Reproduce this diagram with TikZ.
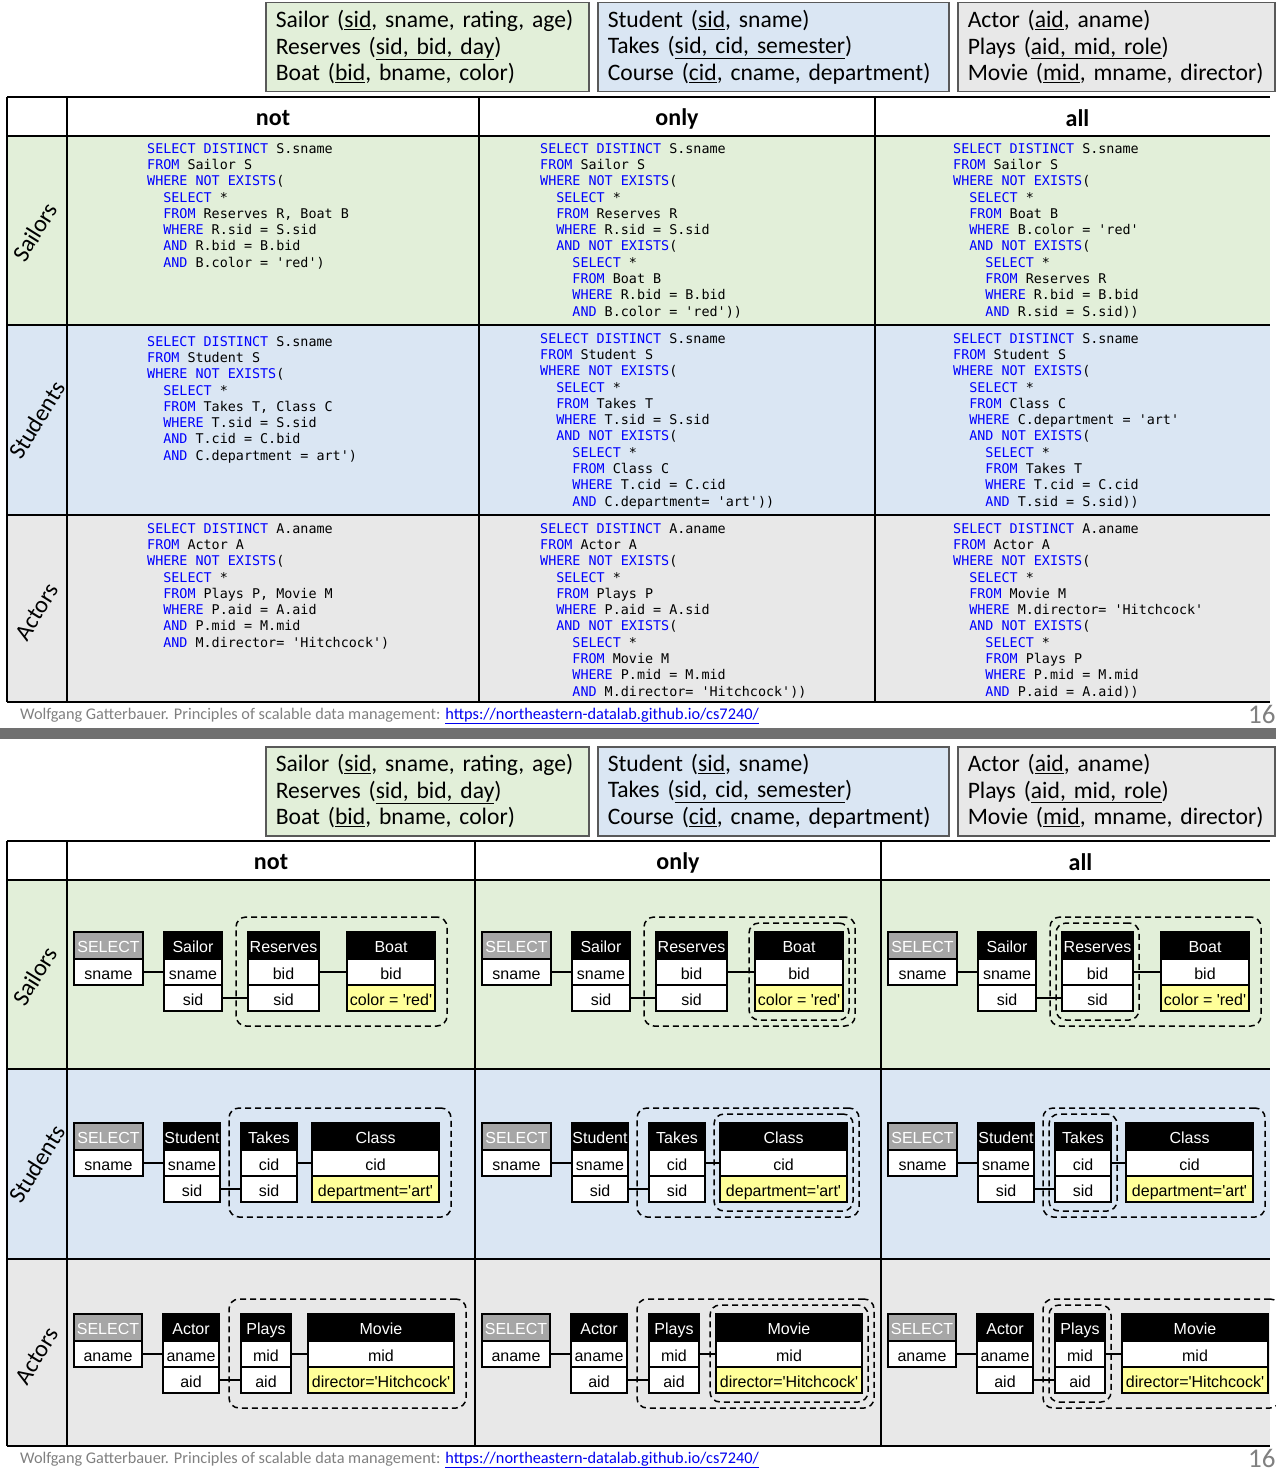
\documentclass[tikz,border=0pt]{standalone}
\usepackage{fontspec}
\setmainfont{Carlito}
\setsansfont{Liberation Sans}
\setmonofont{DejaVu Sans Mono}
\usetikzlibrary{positioning, fit}

\definecolor{sailgreen}{HTML}{E2EFD9}
\definecolor{studblue}{HTML}{DAE6F3}
\definecolor{actgray}{HTML}{E8E8E8}
\definecolor{kwblue}{HTML}{0000FF}
\definecolor{selgray}{HTML}{A6A6A6}
\definecolor{predyellow}{HTML}{FFFF99}
\definecolor{footgray}{HTML}{808080}
\definecolor{linkblue}{HTML}{0000EE}
\definecolor{schemaline}{HTML}{595959}
\definecolor{sepgray}{HTML}{707070}

\newcommand{\kw}[1]{\textcolor{kwblue}{#1}}
\newcommand{\sq}{\textquotesingle}
\newcommand{\tb}{\hphantom{00}}

\tikzset{
    schemabox/.style={
        draw=schemaline, % grauer Rand
        line width=1.5pt,
        anchor=north west,
        minimum height=89pt,
        inner xsep=10pt,
        align=left,
        font=\fontsize{23.6}{26.5}\selectfont
    },
    colhead/.style={font=\fontsize{24}{28}\selectfont\bfseries},
    rowlabel/.style={rotate=58, font=\fontsize{24}{28}\selectfont},
    code/.style={
        anchor=north west,
        inner sep=0pt,
        align=left,
        font=\fontsize{13.4}{16.3}\selectfont\ttfamily
    },
    cell/.style={
        draw,
        fill=white,
        line width=1.5pt,
        outer sep=0pt,
        inner sep=0pt,
        minimum height=26pt,
        text height=15pt,
        text depth=1pt,
        font=\fontsize{16}{19}\selectfont\sffamily
    },
    relhead/.style={cell, fill=black, text=white, minimum height=27pt},
    selhead/.style={relhead, fill=selgray},
    pred/.style={cell, fill=predyellow},
    link/.style={line width=1.5pt},
    tablerule/.style={line width=2pt},
    dashbox/.style={
        draw,
        line width=1.5pt,
        dash pattern=on 6pt off 4pt,
        rounded corners=10pt,
        inner xsep=12pt,
        inner ysep=15pt
    },
    innerbox/.style={dashbox, inner xsep=6pt, inner ysep=9pt},
    footer/.style={anchor=west, inner sep=0pt, font=\fontsize{16.3}{19}\selectfont, text=footgray}
}

\begin{document}
\begin{tikzpicture}[x=1pt, y=-1pt]
\useasboundingbox (0,0) rectangle (1276,1474);

% beide Folien: Schema, Tabelle, Fusszeile
\foreach \off/\ca/\cb in {0/479/875, 744/475/881}{
    \node[schemabox, fill=sailgreen, text width=303pt] (sch-sa\off) at (265,2+\off)
        {Sailor (\underline{sid}, sname, rating, age)\\Reserves (\underline{sid, bid, day})\\Boat (\underline{bid}, bname, color)};
    \node[schemabox, fill=studblue, text width=331pt] (sch-st\off) at (597,2+\off)
        {Student (\underline{sid}, sname)\\Takes (\underline{sid, cid, semester})\\Course (\underline{cid}, cname, department)};
    \node[schemabox, fill=actgray, text width=297pt] (sch-ac\off) at (957,2+\off)
        {Actor (\underline{aid}, aname)\\Plays (\underline{aid, mid, role})\\Movie (\underline{mid}, mname, director)};
    \fill[sailgreen] (7,136+\off) rectangle (1270,325+\off);
    \fill[studblue] (7,325+\off) rectangle (1270,515+\off);
    \fill[actgray] (7,515+\off) rectangle (1270,702+\off);
    \foreach \yy in {97,136,325,515,702}
        \draw[tablerule] (7,\yy+\off) -- (1270,\yy+\off);
    \foreach \xx in {7,67,\ca,\cb}
        \draw[tablerule] (\xx,97+\off) -- (\xx,702+\off);
    \node[colhead] (hd-not\off) at ({(67+\ca)/2},118.5+\off) {not};
    \node[colhead] (hd-only\off) at ({(\ca+\cb)/2},118.5+\off) {only};
    \node[colhead] (hd-all\off) at ({(\cb+1280)/2},118.5+\off) {all};
    \node[rowlabel] (lb-sa\off) at (35,232+\off) {Sailors};
    \node[rowlabel] (lb-st\off) at (37,420+\off) {Students};
    \node[rowlabel] (lb-ac\off) at (37,612+\off) {Actors};
    \node[footer] (ft\off) at (20,716+\off)
        {Wolfgang Gatterbauer. Principles of scalable data management: \textcolor{linkblue}{\underline{https://northeastern-datalab.github.io/cs7240/}}};
    \node[anchor=west, inner sep=0pt, font=\fontsize{27}{30}\selectfont, text=footgray] (pg\off) at (1248,714+\off) {16};
}
\fill[sepgray] (0,728) rectangle (1276,739);

% SQL Folie
\node[code] (sql-sa-not) at (147,143) {%
\kw{SELECT DISTINCT} S.sname\\
\kw{FROM} Sailor S\\
\kw{WHERE NOT EXISTS}(\\
\tb\kw{SELECT} *\\
\tb\kw{FROM} Reserves R, Boat B\\
\tb\kw{WHERE} R.sid = S.sid\\
\tb\kw{AND} R.bid = B.bid\\
\tb\kw{AND} B.color = \sq red\sq)};
\node[code] (sql-sa-only) at (540,143) {%
\kw{SELECT DISTINCT} S.sname\\
\kw{FROM} Sailor S\\
\kw{WHERE NOT EXISTS}(\\
\tb\kw{SELECT} *\\
\tb\kw{FROM} Reserves R\\
\tb\kw{WHERE} R.sid = S.sid\\
\tb\kw{AND NOT EXISTS}(\\
\tb\tb\kw{SELECT} *\\
\tb\tb\kw{FROM} Boat B\\
\tb\tb\kw{WHERE} R.bid = B.bid\\
\tb\tb\kw{AND} B.color = \sq red\sq))};
\node[code] (sql-sa-all) at (953,143) {%
\kw{SELECT DISTINCT} S.sname\\
\kw{FROM} Sailor S\\
\kw{WHERE NOT EXISTS}(\\
\tb\kw{SELECT} *\\
\tb\kw{FROM} Boat B\\
\tb\kw{WHERE} B.color = \sq red\sq\\
\tb\kw{AND NOT EXISTS}(\\
\tb\tb\kw{SELECT} *\\
\tb\tb\kw{FROM} Reserves R\\
\tb\tb\kw{WHERE} R.bid = B.bid\\
\tb\tb\kw{AND} R.sid = S.sid))};
\node[code] (sql-st-not) at (147,336) {%
\kw{SELECT DISTINCT} S.sname\\
\kw{FROM} Student S\\
\kw{WHERE NOT EXISTS}(\\
\tb\kw{SELECT} *\\
\tb\kw{FROM} Takes T, Class C\\
\tb\kw{WHERE} T.sid = S.sid\\
\tb\kw{AND} T.cid = C.bid\\
\tb\kw{AND} C.department = art\sq)};
\node[code] (sql-st-only) at (540,333) {%
\kw{SELECT DISTINCT} S.sname\\
\kw{FROM} Student S\\
\kw{WHERE NOT EXISTS}(\\
\tb\kw{SELECT} *\\
\tb\kw{FROM} Takes T\\
\tb\kw{WHERE} T.sid = S.sid\\
\tb\kw{AND NOT EXISTS}(\\
\tb\tb\kw{SELECT} *\\
\tb\tb\kw{FROM} Class C\\
\tb\tb\kw{WHERE} T.cid = C.cid\\
\tb\tb\kw{AND} C.department= \sq art\sq))};
\node[code] (sql-st-all) at (953,333) {%
\kw{SELECT DISTINCT} S.sname\\
\kw{FROM} Student S\\
\kw{WHERE NOT EXISTS}(\\
\tb\kw{SELECT} *\\
\tb\kw{FROM} Class C\\
\tb\kw{WHERE} C.department = \sq art\sq\\
\tb\kw{AND NOT EXISTS}(\\
\tb\tb\kw{SELECT} *\\
\tb\tb\kw{FROM} Takes T\\
\tb\tb\kw{WHERE} T.cid = C.cid\\
\tb\tb\kw{AND} T.sid = S.sid))};
\node[code] (sql-ac-not) at (147,523) {%
\kw{SELECT DISTINCT} A.aname\\
\kw{FROM} Actor A\\
\kw{WHERE NOT EXISTS}(\\
\tb\kw{SELECT} *\\
\tb\kw{FROM} Plays P, Movie M\\
\tb\kw{WHERE} P.aid = A.aid\\
\tb\kw{AND} P.mid = M.mid\\
\tb\kw{AND} M.director= \sq Hitchcock\sq)};
\node[code] (sql-ac-only) at (540,523) {%
\kw{SELECT DISTINCT} A.aname\\
\kw{FROM} Actor A\\
\kw{WHERE NOT EXISTS}(\\
\tb\kw{SELECT} *\\
\tb\kw{FROM} Plays P\\
\tb\kw{WHERE} P.aid = A.sid\\
\tb\kw{AND NOT EXISTS}(\\
\tb\tb\kw{SELECT} *\\
\tb\tb\kw{FROM} Movie M\\
\tb\tb\kw{WHERE} P.mid = M.mid\\
\tb\tb\kw{AND} M.director= \sq Hitchcock\sq))};
\node[code] (sql-ac-all) at (953,523) {%
\kw{SELECT DISTINCT} A.aname\\
\kw{FROM} Actor A\\
\kw{WHERE NOT EXISTS}(\\
\tb\kw{SELECT} *\\
\tb\kw{FROM} Movie M\\
\tb\kw{WHERE} M.director= \sq Hitchcock\sq\\
\tb\kw{AND NOT EXISTS}(\\
\tb\tb\kw{SELECT} *\\
\tb\tb\kw{FROM} Plays P\\
\tb\tb\kw{WHERE} P.mid = M.mid\\
\tb\tb\kw{AND} P.aid = A.aid))};

% Diagramm Folie: Sailors
\foreach \c/\x in {n/67, o/475, a/881}{
    \node[selhead, minimum width=69pt, anchor=west] (sa\c-sel) at (\x+7,945.5) {SELECT};
    \node[cell, minimum width=69pt, below=0pt of sa\c-sel] (sa\c-sel1) {sname};
    \node[relhead, minimum width=58pt, right=21pt of sa\c-sel] (sa\c-s) {Sailor};
    \node[cell, minimum width=58pt, below=0pt of sa\c-s] (sa\c-s1) {sname};
    \node[cell, minimum width=58pt, below=0pt of sa\c-s1] (sa\c-s2) {sid};
    \node[relhead, minimum width=71pt, right=26pt of sa\c-s] (sa\c-r) {Reserves};
    \node[cell, minimum width=71pt, below=0pt of sa\c-r] (sa\c-r1) {bid};
    \node[cell, minimum width=71pt, below=0pt of sa\c-r1] (sa\c-r2) {sid};
    \node[relhead, minimum width=88pt, right=28pt of sa\c-r] (sa\c-b) {Boat};
    \node[cell, minimum width=88pt, below=0pt of sa\c-b] (sa\c-b1) {bid};
    \node[pred, minimum width=88pt, below=0pt of sa\c-b1] (sa\c-b2) {color = \sq red\sq};
    \draw[link] (sa\c-sel1) -- (sa\c-s1);
    \draw[link] (sa\c-s2) -- (sa\c-r2);
    \draw[link] (sa\c-r1) -- (sa\c-b1);
    \node[dashbox, fit=(sa\c-r)(sa\c-b2)] (sa\c-q) {};
}
\node[innerbox, fit=(sao-b)(sao-b2)] (sao-q2) {};
\node[innerbox, fit=(saa-r)(saa-r2)] (saa-q2) {};

% Students
\foreach \c/\x in {n/67, o/475, a/881}{
    \node[selhead, minimum width=69pt, anchor=west] (st\c-sel) at (\x+7,1136.5) {SELECT};
    \node[cell, minimum width=69pt, below=0pt of st\c-sel] (st\c-sel1) {sname};
    \node[relhead, minimum width=56pt, right=21pt of st\c-sel] (st\c-s) {Student};
    \node[cell, minimum width=56pt, below=0pt of st\c-s] (st\c-s1) {sname};
    \node[cell, minimum width=56pt, below=0pt of st\c-s1] (st\c-s2) {sid};
    \node[relhead, minimum width=56pt, right=21pt of st\c-s] (st\c-t) {Takes};
    \node[cell, minimum width=56pt, below=0pt of st\c-t] (st\c-t1) {cid};
    \node[cell, minimum width=56pt, below=0pt of st\c-t1] (st\c-t2) {sid};
    \node[relhead, minimum width=127pt, right=15pt of st\c-t] (st\c-c) {Class};
    \node[cell, minimum width=127pt, below=0pt of st\c-c] (st\c-c1) {cid};
    \node[pred, minimum width=127pt, below=0pt of st\c-c1] (st\c-c2) {department=\sq art\sq};
    \draw[link] (st\c-sel1) -- (st\c-s1);
    \draw[link] (st\c-s2) -- (st\c-t2);
    \draw[link] (st\c-t1) -- (st\c-c1);
    \node[dashbox, fit=(st\c-t)(st\c-c2)] (st\c-q) {};
}
\node[innerbox, fit=(sto-c)(sto-c2)] (sto-q2) {};
\node[innerbox, fit=(sta-t)(sta-t2)] (sta-q2) {};

% Actors
\foreach \c/\x in {n/67, o/475, a/881}{
    \node[selhead, minimum width=68pt, anchor=west] (ac\c-sel) at (\x+7,1327.5) {SELECT};
    \node[cell, minimum width=68pt, below=0pt of ac\c-sel] (ac\c-sel1) {aname};
    \node[relhead, minimum width=56pt, right=21pt of ac\c-sel] (ac\c-a) {Actor};
    \node[cell, minimum width=56pt, below=0pt of ac\c-a] (ac\c-a1) {aname};
    \node[cell, minimum width=56pt, below=0pt of ac\c-a1] (ac\c-a2) {aid};
    \node[relhead, minimum width=50pt, right=22pt of ac\c-a] (ac\c-p) {Plays};
    \node[cell, minimum width=50pt, below=0pt of ac\c-p] (ac\c-p1) {mid};
    \node[cell, minimum width=50pt, below=0pt of ac\c-p1] (ac\c-p2) {aid};
    \node[relhead, minimum width=146pt, right=17pt of ac\c-p] (ac\c-m) {Movie};
    \node[cell, minimum width=146pt, below=0pt of ac\c-m] (ac\c-m1) {mid};
    \node[pred, minimum width=146pt, below=0pt of ac\c-m1] (ac\c-m2) {director=\sq Hitchcock\sq};
    \draw[link] (ac\c-sel1) -- (ac\c-a1);
    \draw[link] (ac\c-a2) -- (ac\c-p2);
    \draw[link] (ac\c-p1) -- (ac\c-m1);
    \node[dashbox, fit=(ac\c-p)(ac\c-m2)] (ac\c-q) {};
}
\node[innerbox, fit=(aco-m)(aco-m2)] (aco-q2) {};
\node[innerbox, fit=(aca-p)(aca-p2)] (aca-q2) {};
\end{tikzpicture}
\end{document}
